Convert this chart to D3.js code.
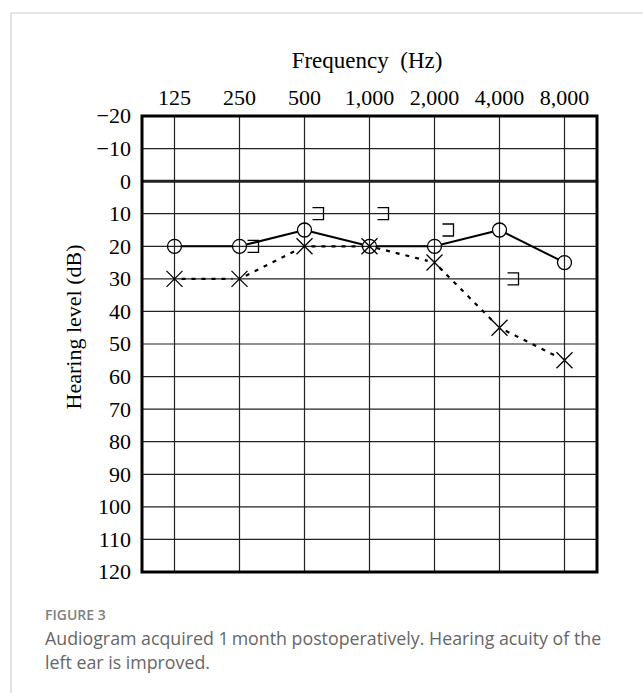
<!DOCTYPE html>
<html>
<head>
<meta charset="utf-8">
<script src="https://cdn.jsdelivr.net/npm/d3@7"></script>
<style>
  html, body { margin: 0; padding: 0; background: #fff; }
  svg { display: block; }
</style>
</head>
<body>
<svg id="chart" width="643" height="693"></svg>
<script>
// audiogram values (dB HL)
const freqs = [125, 250, 500, 1000, 2000, 4000, 8000];
const freqLabels = ['125', '250', '500', '1,000', '2,000', '4,000', '8,000'];
const levelTicks = [-20, -10, 0, 10, 20, 30, 40, 50, 60, 70, 80, 90, 100, 110, 120];
const rightAir = [20, 20, 15, 20, 20, 15, 25];   // O, solid
const leftAir = [30, 30, 20, 20, 25, 45, 55];    // X, dashed
const boneFreqs = [250, 500, 1000, 2000, 4000];
const leftBone = [20, 10, 10, 15, 30];           // ] bracket

const svg = d3.select('#chart');
const serif = '"Liberation Serif", "Times New Roman", serif';

// light page frame
svg.append('path')
  .attr('d', 'M11,693 V13 H643')
  .attr('fill', 'none')
  .attr('stroke', '#cfcfcf')
  .attr('stroke-width', 1.2);

const plotL = 142, plotR = 597, plotT = 116, plotB = 572;

const x = d3.scaleLog()
  .base(2)
  .domain([125 / Math.SQRT2, 8000 * Math.SQRT2])
  .range([plotL, plotR]);
const y = d3.scaleLinear().domain([-20, 120]).range([plotT, plotB]);

const g = svg.append('g');

// grid
g.selectAll('.hgrid')
  .data(levelTicks.filter(d => d !== -20 && d !== 120))
  .enter().append('line')
  .attr('x1', plotL).attr('x2', plotR)
  .attr('y1', d => y(d)).attr('y2', d => y(d))
  .attr('stroke', '#222')
  .attr('stroke-width', d => d === 0 ? 3 : 1.2);

g.selectAll('.vgrid')
  .data(freqs)
  .enter().append('line')
  .attr('x1', d => x(d)).attr('x2', d => x(d))
  .attr('y1', plotT).attr('y2', plotB)
  .attr('stroke', '#222')
  .attr('stroke-width', 1.2);

g.append('rect')
  .attr('x', plotL).attr('y', plotT)
  .attr('width', plotR - plotL).attr('height', plotB - plotT)
  .attr('fill', 'none')
  .attr('stroke', '#000')
  .attr('stroke-width', 3);

// axis labels
g.selectAll('.xlab')
  .data(freqs)
  .enter().append('text')
  .attr('x', d => x(d))
  .attr('y', 105)
  .attr('text-anchor', 'middle')
  .attr('font-family', serif)
  .attr('font-size', 22)
  .text((d, i) => freqLabels[i]);

g.selectAll('.ylab')
  .data(levelTicks)
  .enter().append('text')
  .attr('x', 131)
  .attr('y', d => y(d))
  .attr('dy', '0.34em')
  .attr('text-anchor', 'end')
  .attr('font-family', serif)
  .attr('font-size', 22)
  .text(d => d < 0 ? '\u2212' + Math.abs(d) : d);

svg.append('text')
  .attr('x', 367).attr('y', 68)
  .attr('text-anchor', 'middle')
  .attr('font-family', serif)
  .attr('font-size', 23)
  .attr('xml:space', 'preserve')
  .text('Frequency  (Hz)');

svg.append('text')
  .attr('transform', 'translate(81,327) rotate(-90)')
  .attr('text-anchor', 'middle')
  .attr('font-family', serif)
  .attr('font-size', 22)
  .text('Hearing level (dB)');

// connecting segments, trimmed at the markers
function segments(vals, gap) {
  const pts = freqs.map((f, i) => [x(f), y(vals[i])]);
  const segs = [];
  for (let i = 0; i < pts.length - 1; i++) {
    const [x1, y1] = pts[i], [x2, y2] = pts[i + 1];
    const len = Math.hypot(x2 - x1, y2 - y1);
    const ux = (x2 - x1) / len, uy = (y2 - y1) / len;
    segs.push([x1 + ux * gap, y1 + uy * gap, x2 - ux * gap, y2 - uy * gap]);
  }
  return segs;
}

g.selectAll('.rseg')
  .data(segments(rightAir, 7))
  .enter().append('line')
  .attr('x1', d => d[0]).attr('y1', d => d[1])
  .attr('x2', d => d[2]).attr('y2', d => d[3])
  .attr('stroke', '#000')
  .attr('stroke-width', 2);

g.selectAll('.lseg')
  .data(segments(leftAir, 7))
  .enter().append('line')
  .attr('x1', d => d[0]).attr('y1', d => d[1])
  .attr('x2', d => d[2]).attr('y2', d => d[3])
  .attr('stroke', '#000')
  .attr('stroke-width', 2.2)
  .attr('stroke-dasharray', '4,6');

// O markers
g.selectAll('.circ')
  .data(rightAir)
  .enter().append('circle')
  .attr('cx', (d, i) => x(freqs[i]))
  .attr('cy', d => y(d))
  .attr('r', 7)
  .attr('fill', 'none')
  .attr('stroke', '#000')
  .attr('stroke-width', 1.3);

// X markers
const s = 8;
g.selectAll('.cross')
  .data(leftAir)
  .enter().append('path')
  .attr('d', (d, i) => {
    const cx = x(freqs[i]), cy = y(d);
    return `M${cx - s},${cy - s}L${cx + s},${cy + s}M${cx - s},${cy + s}L${cx + s},${cy - s}`;
  })
  .attr('fill', 'none')
  .attr('stroke', '#000')
  .attr('stroke-width', 1.3);

// bone conduction brackets
g.selectAll('.bone')
  .data(leftBone)
  .enter().append('path')
  .attr('d', (d, i) => {
    const bx = x(boneFreqs[i]) + 8, by = y(d);
    return `M${bx},${by - 6}H${bx + 11}V${by + 6}H${bx}`;
  })
  .attr('fill', 'none')
  .attr('stroke', '#000')
  .attr('stroke-width', 1.3);

// caption
const sans = '"Open Sans", "Noto Sans", sans-serif';
svg.append('text')
  .attr('x', 45).attr('y', 620)
  .attr('font-family', sans)
  .attr('font-size', 14)
  .attr('font-weight', 600)
  .attr('fill', '#808080')
  .text('FIGURE 3');

svg.append('text')
  .attr('x', 45).attr('y', 645)
  .attr('font-family', sans)
  .attr('font-size', 17.8)
  .attr('fill', '#666')
  .text('Audiogram acquired 1\u2009month postoperatively. Hearing acuity of the');

svg.append('text')
  .attr('x', 45).attr('y', 669)
  .attr('font-family', sans)
  .attr('font-size', 17.8)
  .attr('fill', '#666')
  .text('left ear is improved.');
</script>
</body>
</html>
